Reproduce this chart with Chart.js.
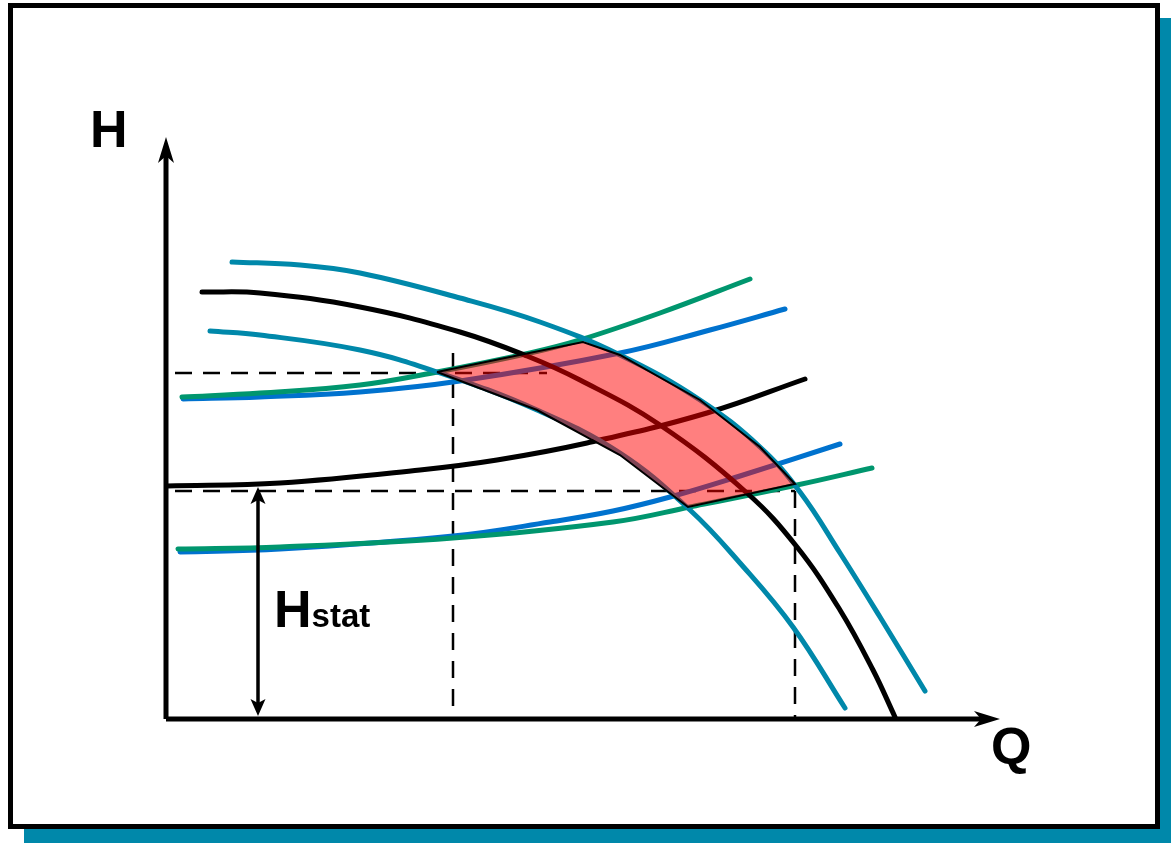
<!DOCTYPE html>
<html>
<head>
<meta charset="utf-8">
<script src="https://cdn.jsdelivr.net/npm/chart.js@4.4.0/dist/chart.umd.min.js"></script>
<style>
  body { margin: 0; background: #fff; }
  #shadow { position: absolute; left: 24px; top: 18px; width: 1147px; height: 825px; background: #0088aa; }
  #frame { position: absolute; left: 8px; top: 3px; width: 1152px; height: 826px; box-sizing: border-box; border: 5px solid #000; background: #fff; }
  #chart { position: absolute; left: 0; top: 0; }
  .lbl { position: absolute; font-family: "Liberation Sans", Arial, sans-serif; font-weight: bold; font-size: 52px; line-height: 1; color: #000; white-space: nowrap; }
  .lbl .sub { font-size: 33px; }
</style>
</head>
<body>
<div id="shadow"></div>
<div id="frame"></div>
<canvas id="chart" width="1171" height="843"></canvas>
<div class="lbl" style="left:90px; top:103px;">H</div>
<div class="lbl" style="left:991px; top:720px;">Q</div>
<div class="lbl" style="left:274px; top:583px;">H<span class="sub">stat</span></div>
<script>
// Curvas de la bomba (H-Q) a distintas velocidades
const pumpHighQ = [66, 134, 194, 294, 374, 454, 534, 594, 634, 674, 714, 759];
const pumpHighH = [457, 454, 446, 421, 397, 364, 319, 272, 227, 166, 102, 28];
const pumpNomQ = [36, 94, 194, 294, 361, 414, 494, 581, 631, 674, 707, 729];
const pumpNomH = [427, 426, 412, 387, 363, 339, 294, 226, 172, 109, 49, 2];
const pumpLowQ = [44, 94, 194, 271, 371, 454, 524, 574, 627, 679];
const pumpLowH = [388, 384, 369, 347, 309, 266, 209, 156, 92, 11];

// Curvas del sistema
const sysHighGreenQ = [16, 94, 194, 271, 364, 414, 494, 584];
const sysHighGreenH = [322, 326, 334, 347, 366, 379, 406, 440];
const sysHighBlueQ = [17, 94, 194, 294, 454, 544, 619];
const sysHighBlueH = [320, 322, 327, 338, 366, 389, 410];
const sysNomQ = [1, 114, 254, 331, 421, 541, 639];
const sysNomH = [233, 236, 249, 259, 276, 306, 340];
const sysLowGreenQ = [12, 114, 287, 447, 524, 631, 706];
const sysLowGreenH = [170, 172, 181, 197, 212, 234, 251];
const sysLowBlueQ = [14, 114, 287, 384, 447, 504, 574, 674];
const sysLowBlueH = [167, 170, 183, 197, 208, 222, 243, 275];

// Zona de trabajo
const zoneQ = [271, 334, 417, 454, 534, 594, 629, 522, 454, 371, 271];
const zoneH = [347, 360, 377, 364, 319, 272, 235, 212, 264, 309, 347];

// Puntos de referencia
const opLeft = { q: 287, h: 346, lineEnd: 381, top: 366 };
const opRight = { q: 629, h: 228 };
const dashStart = 9;
const hStat = 232;
const hStatQ = 92;
const qMax = 834;
const hMax = 582;

const TEAL = '#0088aa';
const GREEN = '#00966e';
const BLUE = '#0072ce';

function pts(qs, hs) {
    return qs.map((q, i) => ({ x: q, y: hs[i] }));
}

function curve(qs, hs, color, width, order) {
    return {
        data: pts(qs, hs),
        showLine: true,
        borderColor: color,
        borderWidth: width,
        borderCapStyle: 'round',
        pointRadius: 0,
        tension: 0.4,
        fill: false,
        clip: false,
        order: order
    };
}

function dashed(data) {
    return {
        data: data,
        showLine: true,
        borderColor: '#000',
        borderWidth: 2.5,
        borderDash: [17, 11],
        pointRadius: 0,
        tension: 0,
        fill: false,
        clip: false,
        order: 20
    };
}

function solid(data, width) {
    return {
        data: data,
        showLine: true,
        borderColor: '#000',
        borderWidth: width,
        pointRadius: 0,
        tension: 0,
        fill: false,
        clip: false,
        order: 1
    };
}

// Dibuja puntas de flecha
function arrowHead(ctx, x, y, angle, len, half, notch) {
    ctx.save();
    ctx.translate(x, y);
    ctx.rotate(angle);
    ctx.beginPath();
    ctx.moveTo(0, 0);
    ctx.lineTo(-len, -half);
    ctx.lineTo(-len + notch, 0);
    ctx.lineTo(-len, half);
    ctx.closePath();
    ctx.fillStyle = '#000';
    ctx.fill();
    ctx.restore();
}

const arrowsPlugin = {
    id: 'arrows',
    afterDatasetsDraw(chart) {
        const ctx = chart.ctx;
        const xs = chart.scales.x;
        const ys = chart.scales.y;
        arrowHead(ctx, xs.getPixelForValue(qMax), ys.getPixelForValue(0), 0, 26, 8, 7);
        arrowHead(ctx, xs.getPixelForValue(0), ys.getPixelForValue(hMax), -Math.PI / 2, 26, 8, 7);
        arrowHead(ctx, xs.getPixelForValue(hStatQ), ys.getPixelForValue(hStat), -Math.PI / 2, 17, 7.5, 4);
        arrowHead(ctx, xs.getPixelForValue(hStatQ), ys.getPixelForValue(0) - 3, Math.PI / 2, 17, 7.5, 4);
    }
};

const ctx = document.getElementById('chart').getContext('2d');
const chart = new Chart(ctx, {
    type: 'scatter',
    data: {
        datasets: [
            // zona sombreada
            {
                data: pts(zoneQ, zoneH),
                showLine: true,
                borderColor: '#000',
                borderWidth: 2,
                backgroundColor: 'rgba(255, 0, 0, 0.5)',
                pointRadius: 0,
                tension: 0,
                fill: 'shape',
                clip: false,
                order: 0
            },
            // ejes
            solid([{ x: 0, y: 0 }, { x: qMax - 15, y: 0 }], 5),
            solid([{ x: 0, y: 0 }, { x: 0, y: hMax - 15 }], 5),
            solid([{ x: hStatQ, y: 8 }, { x: hStatQ, y: hStat - 8 }], 3.5),
            // curvas de la bomba
            curve(pumpHighQ, pumpHighH, TEAL, 5, 5),
            curve(pumpNomQ, pumpNomH, '#000', 5, 5),
            curve(pumpLowQ, pumpLowH, TEAL, 5, 5),
            // curvas del sistema
            curve(sysNomQ, sysNomH, '#000', 5, 6),
            curve(sysHighGreenQ, sysHighGreenH, GREEN, 5, 7),
            curve(sysHighBlueQ, sysHighBlueH, BLUE, 5, 7),
            curve(sysLowGreenQ, sysLowGreenH, GREEN, 5, 6),
            curve(sysLowBlueQ, sysLowBlueH, BLUE, 5, 7),
            // líneas de referencia
            dashed([{ x: dashStart, y: opLeft.h }, { x: opLeft.lineEnd, y: opLeft.h }]),
            dashed([{ x: opLeft.q, y: opLeft.top }, { x: opLeft.q, y: 0 }]),
            dashed([{ x: dashStart, y: opRight.h }, { x: opRight.q, y: opRight.h }]),
            dashed([{ x: opRight.q, y: opRight.h }, { x: opRight.q, y: 0 }])
        ]
    },
    options: {
        responsive: false,
        animation: false,
        layout: { padding: { left: 166, right: 171, top: 137, bottom: 124 } },
        scales: {
            x: { type: 'linear', min: 0, max: qMax, display: false },
            y: { type: 'linear', min: 0, max: hMax, display: false }
        },
        plugins: {
            legend: { display: false },
            tooltip: { enabled: false }
        }
    },
    plugins: [arrowsPlugin]
});
</script>
</body>
</html>
